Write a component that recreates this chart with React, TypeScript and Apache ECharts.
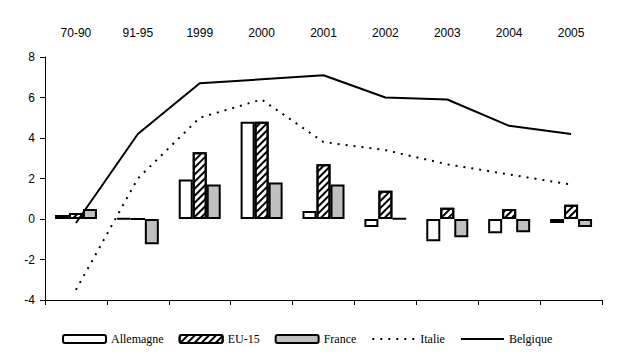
import React, { useEffect, useRef } from "react";
import * as echarts from "echarts";

const categories = ["70-90", "91-95", "1999", "2000", "2001", "2002", "2003", "2004", "2005"];
const allemagne = [0.2, 0.03, 1.95, 4.8, 0.4, -0.4, -1.1, -0.7, -0.2];
const eu15 = [0.3, 0.0, 3.3, 4.8, 2.7, 1.4, 0.55, 0.5, 0.7];
const france = [0.5, -1.25, 1.7, 1.8, 1.7, 0.02, -0.9, -0.65, -0.4];
const italie = [-3.5, 2.0, 5.0, 5.9, 3.8, 3.4, 2.7, 2.2, 1.7];
const belgique = [-0.2, 4.2, 6.7, 6.9, 7.1, 6.0, 5.9, 4.6, 4.2];
const yTicks = { min: -4, max: 8, interval: 2 };

const sans = "Liberation Sans";
const serif = "Liberation Serif";

export default function App() {
  const ref = useRef<HTMLDivElement>(null);
  useEffect(() => {
    if (!ref.current) return;
    const chart = echarts.init(ref.current, undefined, { renderer: "svg" });
    const barBase = {
      type: "bar",
      barWidth: 14,
      barGap: "0%",
      xAxisIndex: 0,
      z: 2,
    };
    const hiddenSymbol = { opacity: 0, color: "transparent", borderWidth: 0 };
    chart.setOption({
      animation: false,
      backgroundColor: "#fff",
      grid: { left: 45, right: 18, top: 57, bottom: 63, containLabel: false },
      xAxis: [
        {
          type: "category",
          data: categories,
          position: "top",
          axisLine: { show: false },
          axisTick: { show: false },
          axisLabel: { color: "#000", fontFamily: sans, fontSize: 12, margin: 18 },
          splitLine: { show: false },
        },
        {
          type: "category",
          data: categories,
          position: "bottom",
          axisLine: { show: true, onZero: true, lineStyle: { color: "#000", width: 1 } },
          axisTick: { show: true, length: 5, lineStyle: { color: "#000" } },
          axisLabel: { show: false },
          splitLine: { show: false },
        },
      ],
      yAxis: {
        type: "value",
        min: yTicks.min,
        max: yTicks.max,
        interval: yTicks.interval,
        axisLine: { show: true, lineStyle: { color: "#000", width: 1 } },
        axisTick: { show: true, length: 5, lineStyle: { color: "#000" } },
        axisLabel: { color: "#000", fontFamily: sans, fontSize: 12, margin: 10 },
        splitLine: { show: false },
      },
      legend: {
        left: 57,
        top: 328,
        itemWidth: 43,
        itemHeight: 8,
        itemGap: 15,
        textStyle: { color: "#000", fontFamily: serif, fontSize: 12 },
        data: [
          "Allemagne",
          "EU-15",
          "France",
          { name: "Italie", itemStyle: hiddenSymbol },
          { name: "Belgique", itemStyle: hiddenSymbol },
        ],
      },
      series: [
        {
          ...barBase,
          name: "Allemagne",
          data: allemagne,
          itemStyle: { color: "#fff", borderColor: "#000", borderWidth: 2 },
        },
        {
          ...barBase,
          name: "EU-15",
          data: eu15,
          itemStyle: {
            color: "#fff",
            borderColor: "#000",
            borderWidth: 2,
            decal: {
              symbol: "rect",
              symbolSize: 1,
              color: "#000",
              backgroundColor: "#fff",
              dashArrayX: [1, 0],
              dashArrayY: [2, 3],
              rotation: -Math.PI / 4,
            },
          },
        },
        {
          ...barBase,
          name: "France",
          data: france,
          itemStyle: { color: "#c0c0c0", borderColor: "#000", borderWidth: 2 },
        },
        {
          type: "line",
          name: "Italie",
          data: italie,
          xAxisIndex: 0,
          symbol: "none",
          z: 3,
          lineStyle: { color: "#000", width: 2, type: [2, 6] },
          itemStyle: { color: "#000" },
        },
        {
          type: "line",
          name: "Belgique",
          data: belgique,
          xAxisIndex: 0,
          symbol: "none",
          z: 3,
          lineStyle: { color: "#000", width: 2, type: "solid" },
          itemStyle: { color: "#000" },
        },
      ],
    });
    return () => chart.dispose();
  }, []);
  return <div ref={ref} style={{ width: 620, height: 363, margin: -8 }} />;
}
